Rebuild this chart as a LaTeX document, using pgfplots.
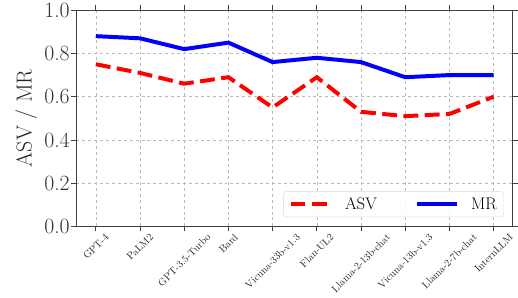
\documentclass[border=0pt]{standalone}
\usepackage{fontspec}
\usepackage{graphicx}
\usepackage{pgfplots}
\pgfplotsset{compat=1.18}
\begin{document}
\begin{tikzpicture}
\begin{axis}[
  scale only axis,
  width=440bp, height=218bp,
  xmin=-0.44, xmax=9.43,
  ymin=0, ymax=1.0,
  xtick={0,1,2,3,4,5,6,7,8,9},
  xticklabels={\rotatebox{45}{GPT-4},\rotatebox{45}{PaLM2},\rotatebox{45}{GPT-3.5-Turbo},\rotatebox{45}{Bard},\rotatebox{45}{Vicuna-33b-v1.3},\rotatebox{45}{Flan-UL2},\rotatebox{45}{Llama-2-13b-chat},\rotatebox{45}{Vicuna-13b-v1.3},\rotatebox{45}{Llama-2-7b-chat},\rotatebox{45}{InternLLM}},
  xticklabel style={anchor=north, font=\fontsize{10.3}{11}\selectfont, inner sep=1.5pt, text=black!85},
  ytick={0,0.2,0.4,0.6,0.8,1.0},
  /pgf/number format/assume math mode=true,
  yticklabel={\pgfmathprintnumber[fixed,precision=1,zerofill]{\tick}},
  yticklabel style={font=\fontsize{22}{24}\selectfont, text=black!80, inner sep=1.5pt},
  ylabel={ASV / MR},
  ylabel style={font=\fontsize{22}{24}\selectfont, text=black!85, at={(axis description cs:-0.082,0.5)}, anchor=south},
  grid=major,
  major grid style={dashed, gray!55, line width=0.6pt},
  tick align=outside,
  major tick length=5bp,
  tick style={black!75, line width=0.8pt},
  axis line style={black!75, line width=1pt},
  legend columns=2,
  legend style={at={(0.98,0.043)}, anchor=south east, font=\fontsize{17}{19}\selectfont, draw=gray!30, rounded corners=2.5pt, fill=white, fill opacity=0.85, text opacity=1, inner xsep=5pt, inner ysep=4pt, /tikz/every even column/.append style={column sep=36bp}, /tikz/every odd column/.append style={column sep=10bp}},
  legend image code/.code={\draw[#1] (0bp,0bp) -- (41bp,0bp);},
]
\addplot[red, line width=4bp, dash pattern=on 15bp off 6.5bp] coordinates {
(0,0.75) (1,0.71) (2,0.66) (3,0.69) (4,0.55) (5,0.69) (6,0.53) (7,0.51) (8,0.52) (9,0.60)};
\addlegendentry{ASV}
\addplot[blue, line width=4bp] coordinates {
(0,0.88) (1,0.87) (2,0.82) (3,0.85) (4,0.76) (5,0.78) (6,0.76) (7,0.69) (8,0.70) (9,0.70)};
\addlegendentry{MR}
\end{axis}
\path ([xshift=-77bp,yshift=-72bp]current axis.south west);
\path ([xshift=1bp,yshift=10.3bp]current axis.north east);
\end{tikzpicture}
\end{document}
